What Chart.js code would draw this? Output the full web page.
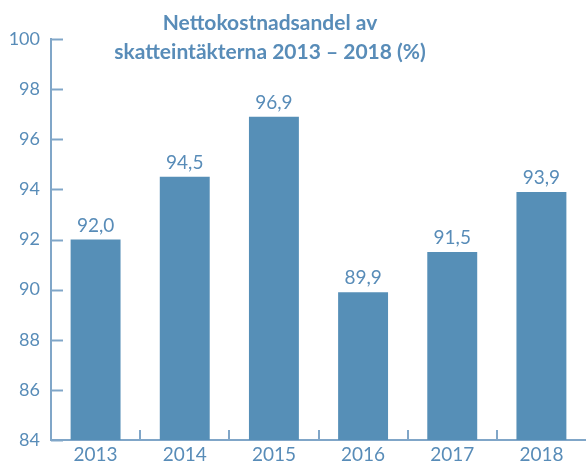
<!DOCTYPE html>
<html>
<head>
<meta charset="utf-8">
<script src="https://cdn.jsdelivr.net/npm/chart.js@4"></script>
<style>
  html, body { margin: 0; padding: 0; background: #fff; overflow: hidden; }
  #wrap { width: 586px; height: 461px; position: relative; }
</style>
</head>
<body>
<div id="wrap"><canvas id="chart"></canvas></div>
<script>
// Chart data
var years = ['2013', '2014', '2015', '2016', '2017', '2018'];
var shares = [92.0, 94.5, 96.9, 89.9, 91.5, 93.9];
var titleLines = ['Nettokostnadsandel av', 'skatteintäkterna 2013 \u2013 2018 (%)'];

var textColor = 'rgb(88,140,184)';
var barColor = 'rgb(86,143,183)';
var axisColor = 'rgb(128,166,200)';
var fontFamily = 'Lato, "Open Sans", sans-serif';

// Draw title, value labels and inward tick marks
var decorPlugin = {
    id: 'decor',
    afterDraw: function(chart) {
        var ctx = chart.ctx;
        var x = chart.scales.x;
        var y = chart.scales.y;
        var area = chart.chartArea;
        ctx.save();

        // inward ticks on the y axis
        ctx.strokeStyle = axisColor;
        ctx.lineWidth = 2;
        y.ticks.forEach(function(t) {
            var py = Math.round(y.getPixelForValue(t.value)) + 0.5;
            ctx.beginPath();
            ctx.moveTo(area.left, py);
            ctx.lineTo(area.left + 12, py);
            ctx.stroke();
        });

        // ticks between categories on the x axis
        for (var i = 1; i < years.length; i++) {
            var px = Math.round((x.getPixelForValue(i - 1) + x.getPixelForValue(i)) / 2);
            ctx.beginPath();
            ctx.moveTo(px, area.bottom);
            ctx.lineTo(px, area.bottom - 10);
            ctx.stroke();
        }

        // value labels above bars
        ctx.fillStyle = textColor;
        ctx.font = '19px ' + fontFamily;
        ctx.textAlign = 'center';
        ctx.textBaseline = 'alphabetic';
        chart.getDatasetMeta(0).data.forEach(function(bar, i) {
            ctx.fillText(shares[i].toFixed(1).replace('.', ','), bar.x, bar.y - 8);
        });

        // title
        ctx.font = 'bold 21px ' + fontFamily;
        ctx.textBaseline = 'middle';
        ctx.fillText(titleLines[0], 270, 23);
        ctx.fillText(titleLines[1], 270, 52);
        ctx.restore();
    }
};

new Chart(document.getElementById('chart'), {
    type: 'bar',
    data: {
        labels: years,
        datasets: [{
            label: 'Nettokostnadsandel',
            data: shares,
            backgroundColor: barColor,
            borderWidth: 0,
            categoryPercentage: 0.56,
            barPercentage: 1.0
        }]
    },
    options: {
        responsive: true,
        maintainAspectRatio: false,
        animation: false,
        layout: {
            padding: { top: 39, right: 0, bottom: 0, left: 0 }
        },
        plugins: {
            legend: { display: false },
            title: { display: false },
            tooltip: { enabled: false }
        },
        scales: {
            x: {
                offset: true,
                grid: { display: false, tickLength: 3 },
                border: { display: true, color: axisColor, width: 2 },
                ticks: {
                    color: textColor,
                    font: { family: fontFamily, size: 19 },
                    padding: 0,
                    maxRotation: 0
                },
                afterFit: function(scale) { scale.height = 21; }
            },
            y: {
                min: 84,
                max: 100,
                grid: { display: false },
                border: { display: true, color: axisColor, width: 2 },
                ticks: {
                    stepSize: 2,
                    color: textColor,
                    font: { family: fontFamily, size: 18 },
                    padding: 3
                },
                afterFit: function(scale) { scale.width = 51; }
            }
        }
    },
    plugins: [decorPlugin]
});
</script>
</body>
</html>
